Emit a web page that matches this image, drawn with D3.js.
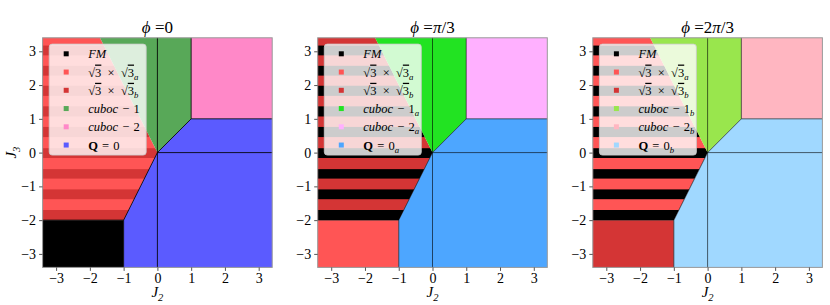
<!DOCTYPE html>
<html>
<head>
<meta charset="utf-8">
<script src="https://cdn.jsdelivr.net/npm/d3@7"></script>
</head>
<body style="margin:0">
<div id="chart-area"></div>
<script>
/*
*    phase diagrams J2 / J3
*/

// panels
var panelTitles = [
    [["ϕ", "i"], [" =0", "r"]],
    [["ϕ", "i"], [" =", "r"], ["π", "i"], ["/3", "r"]],
    [["ϕ", "i"], [" =2", "r"], ["π", "i"], ["/3", "r"]]
];

// phase order: FM, sqrt3a, sqrt3b, cuboc-1, cuboc-2, Q=0
var phaseColors = [
    ["#000000", "#ff5555", "#d43535", "#58a858", "#ff88c8", "#5b5bff"],
    ["#000000", "#ff5555", "#d43535", "#22e322", "#ffb0ff", "#4da6ff"],
    ["#000000", "#ff5555", "#d43535", "#99e64d", "#ffb6c1", "#a0d8ff"]
];

var phaseSubs = ["", "a", "b"];

// region -> phase index, per panel
var stripedBase = [1, 2, 1];
var stripedBands = [2, 0, 0];
var cornerPhase = [0, 1, 2];

// region polygons in (J2, J3)
var stripedRegion = [[-3.4, 3.4], [-1.7, 3.4], [0, 0], [-1, -2], [-3.4, -2]];
var cornerRegion = [[-3.4, -2], [-1, -2], [-1, -3.4], [-3.4, -3.4]];
var cuboc1Region = [[-1.7, 3.4], [1, 3.4], [1, 1], [0, 0]];
var cuboc2Region = [[1, 3.4], [3.4, 3.4], [3.4, 1], [1, 1]];
var q0Region = [[0, 0], [1, 1], [3.4, 1], [3.4, -3.4], [-1, -3.4], [-1, -2]];

// J3 bands of the second phase inside the striped region
var bandLow = [-2.0, -1.38, -0.77, -0.16, 0.46, 1.07, 1.68, 2.28, 2.88];
var bandHigh = [-1.7, -1.09, -0.49, 0.13, 0.76, 1.37, 1.98, 2.57, 3.17];

// boundary lines
var edgeLines = [
    [[0, -3.4], [0, 3.4]],
    [[0, 0], [3.4, 0]],
    [[0, 0], [1, 1], [3.4, 1]],
    [[1, 1], [1, 3.4]],
    [[0, 0], [-1, -2], [-1, -3.4]],
    [[-3.4, -2], [-1, -2]]
];

var axisDomain = [-3.4, 3.4];
var tickValues = [-3, -2, -1, 0, 1, 2, 3];

var svg = d3.select("#chart-area").append("svg")
    .attr("width", 830)
    .attr("height", 305)
    .attr("font-family", "Liberation Serif");

// write math-ish text as tspans
function mathText(sel, tokens, size) {
    var shift = 0;
    sel.style("font-family", "'Liberation Serif'", "important")
        .style("font-size", size + "px", "important");
    tokens.forEach((t) => {
        var ts = sel.append("tspan").text(t[0]);
        var dy = 0;
        if (t[1] == "sub") {
            dy = size * 0.25 - shift;
            shift = size * 0.25;
            ts.style("font-size", (size * 0.7) + "px", "important").style("font-style", "italic");
        } else {
            dy = -shift;
            shift = 0;
        }
        if (dy != 0) ts.attr("dy", dy);
        if (t[1] == "i") ts.style("font-style", "italic");
        if (t[1] == "b") ts.style("font-weight", "bold");
        if (t[1] == "o") ts.style("text-decoration", "overline");
    });
}

// en space around ×, three-per-em space around − and =
function legendTokens(k, p) {
    var s = phaseSubs[p];
    var list = [
        [["FM", "i"]],
        [["√", "r"], ["3", "o"], ["\u2002×\u2002", "r"], ["√", "r"], ["3", "o"], ["a", "sub"]],
        [["√", "r"], ["3", "o"], ["\u2002×\u2002", "r"], ["√", "r"], ["3", "o"], ["b", "sub"]],
        [["cuboc", "i"], ["\u2004−\u20041", "r"], [s, "sub"]],
        [["cuboc", "i"], ["\u2004−\u20042", "r"], [s, "sub"]],
        [["Q", "b"], ["\u2004=\u20040", "r"], [s, "sub"]]
    ];
    return list[k].filter((t) => t[0] != "");
}

var size = 229.6;

panelTitles.forEach((title, p) => {
    var left = 42.6 + p * 275.1;
    var top = 37.8;

    var x = d3.scaleLinear().domain(axisDomain).range([left, left + size]);
    var y = d3.scaleLinear().domain(axisDomain).range([top + size, top]);
    var cols = phaseColors[p];

    var poly = (pts) => pts.map((d) => x(d[0]) + "," + y(d[1])).join(" ");

    var g = svg.append("g");

    // striped region
    svg.append("clipPath").attr("id", "clip" + p)
        .append("polygon").attr("points", poly(stripedRegion));

    g.append("polygon").attr("points", poly(stripedRegion))
        .attr("fill", cols[stripedBase[p]]);

    g.append("g").attr("clip-path", "url(#clip" + p + ")")
        .selectAll("rect").data(bandLow).enter().append("rect")
        .attr("x", x(axisDomain[0]))
        .attr("width", size)
        .attr("y", (d, i) => y(bandHigh[i]))
        .attr("height", (d, i) => y(d) - y(bandHigh[i]))
        .attr("fill", cols[stripedBands[p]]);

    g.append("polygon").attr("points", poly(cornerRegion)).attr("fill", cols[cornerPhase[p]]);
    g.append("polygon").attr("points", poly(cuboc1Region)).attr("fill", cols[3]);
    g.append("polygon").attr("points", poly(cuboc2Region)).attr("fill", cols[4]);
    g.append("polygon").attr("points", poly(q0Region)).attr("fill", cols[5]);

    var line = d3.line().x((d) => x(d[0])).y((d) => y(d[1]));
    g.selectAll("path.edge").data(edgeLines).enter().append("path")
        .attr("class", "edge")
        .attr("d", line)
        .attr("fill", "none")
        .attr("stroke", "#000")
        .attr("stroke-opacity", p == 0 ? 0.85 : 0.6)
        .attr("stroke-width", 1);

    // frame
    g.append("rect")
        .attr("x", left).attr("y", top)
        .attr("width", size).attr("height", size)
        .attr("fill", "none").attr("stroke", "#999").attr("stroke-width", 1);

    // axes
    var xAxis = d3.axisBottom(x).tickValues(tickValues).tickSize(3.5).tickPadding(2)
        .tickFormat((d) => d < 0 ? "−" + Math.abs(d) : d);
    var yAxis = d3.axisLeft(y).tickValues(tickValues).tickSize(3.5).tickPadding(3)
        .tickFormat((d) => d < 0 ? "−" + Math.abs(d) : d);

    var gx = svg.append("g").attr("transform", "translate(0," + (top + size) + ")").call(xAxis);
    var gy = svg.append("g").attr("transform", "translate(" + left + ",0)").call(yAxis);
    [gx, gy].forEach((a) => {
        a.attr("font-family", "Liberation Serif").attr("font-size", 14);
        a.select(".domain").remove();
        a.selectAll(".tick line").attr("stroke", "#555");
        a.selectAll(".tick text")
            .style("font-family", "'Liberation Serif'", "important")
            .style("font-size", "14px", "important");
    });

    // title
    var t = svg.append("text")
        .attr("x", left + size / 2).attr("y", 33)
        .attr("text-anchor", "middle");
    mathText(t, title, 17);

    // x label
    var xl = svg.append("text")
        .attr("x", left + size / 2).attr("y", 297)
        .attr("text-anchor", "middle");
    mathText(xl, [["J", "i"], ["2", "sub"]], 15);

    if (p == 0) {
        var yl = svg.append("text")
            .attr("transform", "translate(16," + y(0) + ") rotate(-90)")
            .attr("text-anchor", "middle");
        mathText(yl, [["J", "i"], ["3", "sub"]], 15);
    }

    // legend
    var lg = svg.append("g").attr("transform", "translate(" + (left + 6.6) + "," + (top + 6.3) + ")");
    lg.append("rect")
        .attr("width", 97).attr("height", 111)
        .attr("rx", 3)
        .attr("fill", "#fff").attr("fill-opacity", 0.8)
        .attr("stroke", "#ccc").attr("stroke-opacity", 0.8);

    var rows = lg.selectAll("g.row").data(cols).enter().append("g")
        .attr("class", "row")
        .attr("transform", (d, i) => "translate(0," + (9.7 + i * 18.25) + ")");

    rows.append("rect")
        .attr("x", 14.5).attr("y", -2.5)
        .attr("width", 5).attr("height", 5)
        .attr("fill", (d) => d);

    rows.append("text")
        .attr("x", 39).attr("y", 4.5)
        .each(function(d, i) {
            mathText(d3.select(this), legendTokens(i, p), 12.5);
        });
});
</script>
</body>
</html>
